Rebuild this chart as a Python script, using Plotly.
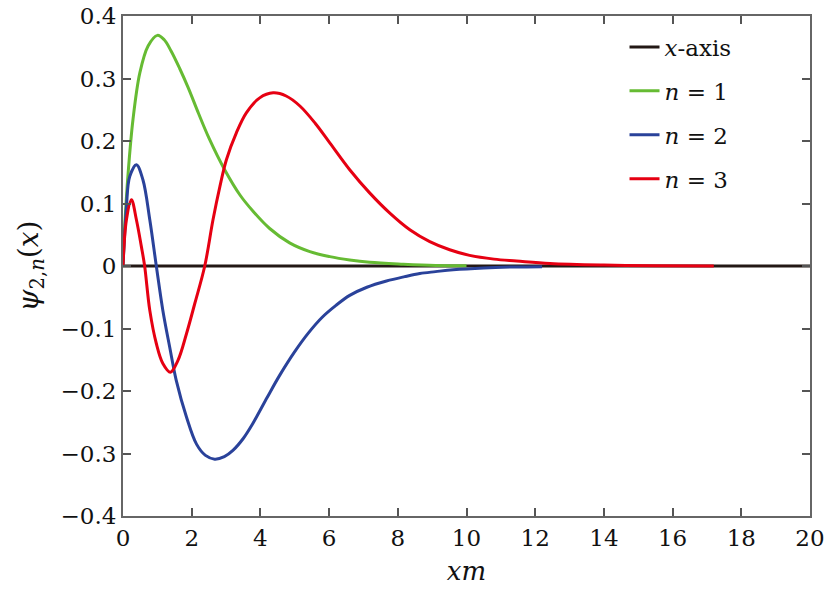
import plotly.graph_objects as go

# ---- data ----
x_axis_x = [0, 20]
x_axis_y = [0, 0]

x_n1 = [0, 0.05, 0.15, 0.29, 0.49, 0.73, 1.0, 1.2, 1.4, 1.65, 1.9, 2.2, 2.5, 2.96, 3.4,
        3.78, 4.27, 4.85, 5.44, 6.02, 6.6, 7.18, 8.16, 9.1, 10.0]
y_n1 = [0, 0.063, 0.149, 0.234, 0.309, 0.352, 0.369, 0.362, 0.344, 0.316, 0.285, 0.244,
        0.205, 0.154, 0.114, 0.088, 0.06, 0.037, 0.023, 0.015, 0.0096, 0.006, 0.003,
        0.001, 0.0005]

x_n2 = [0, 0.1, 0.195, 0.39, 0.58, 0.78, 0.97, 1.16, 1.36, 1.55, 1.85, 2.14, 2.4, 2.67,
        2.95, 3.2, 3.5, 3.78, 4.2, 4.56, 5.0, 5.4, 5.8, 6.2, 6.6, 7.1, 7.67, 8.2, 8.64,
        9.1, 9.61, 10.5, 11.4, 12.2]
y_n2 = [0, 0.095, 0.143, 0.162, 0.138, 0.074, 0.0, -0.071, -0.13, -0.183, -0.242, -0.285,
        -0.303, -0.309, -0.305, -0.295, -0.276, -0.252, -0.21, -0.175, -0.137, -0.107,
        -0.082, -0.063, -0.047, -0.034, -0.024, -0.017, -0.012, -0.009, -0.006, -0.003,
        -0.0015, -0.001]

x_n3 = [0, 0.1, 0.245, 0.39, 0.535, 0.63, 0.78, 0.97, 1.16, 1.38, 1.6, 1.85, 2.09, 2.38,
        2.62, 2.82, 3.01, 3.3, 3.59, 3.98, 4.37, 4.75, 5.15, 5.6, 6.02, 6.6, 7.18, 7.76,
        8.35, 8.93, 9.51, 10.09, 10.8, 11.46, 12.43, 14.0, 15.5, 17.2]
y_n3 = [0, 0.074, 0.106, 0.074, 0.031, 0.0, -0.071, -0.124, -0.156, -0.170, -0.151, -0.108,
        -0.06, 0.0, 0.074, 0.127, 0.170, 0.213, 0.245, 0.269, 0.277, 0.272, 0.256, 0.228,
        0.197, 0.154, 0.117, 0.085, 0.058, 0.039, 0.026, 0.017, 0.011, 0.008, 0.004,
        0.0015, 0.0006, 0.0002]

x_ticks = list(range(0, 21, 2))
y_ticks = [-0.4, -0.3, -0.2, -0.1, 0, 0.1, 0.2, 0.3, 0.4]

FONT = "DejaVu Serif"
BLACK = "#231815"
GREEN = "#66bb33"
BLUE = "#2a429a"
RED = "#e60012"

fig = go.Figure()
series = [
    (x_axis_x, x_axis_y, "<i>x</i>-axis", BLACK, "linear"),
    (x_n1, y_n1, "<i>n</i> = 1", GREEN, "spline"),
    (x_n2, y_n2, "<i>n</i> = 2", BLUE, "spline"),
    (x_n3, y_n3, "<i>n</i> = 3", RED, "spline"),
]
for i, (xs, ys, name, col, shp) in enumerate(series):
    fig.add_trace(go.Scatter(
        x=xs, y=ys, mode="lines", name=name, legendgroup=f"g{i}",
        line=dict(color=col, width=3, shape=shp, smoothing=1.0),
        cliponaxis=False,
    ))

axis_common = dict(
    showline=True, linecolor="#666666", linewidth=2, mirror="ticks",
    ticks="inside", ticklen=8, tickwidth=1.5, tickcolor="#555555",
    showgrid=False, zeroline=False, automargin=False,
    tickfont=dict(family=FONT, size=23, color="#111111"),
)

fig.update_layout(
    width=831, height=593,
    margin=dict(l=123, r=21, t=16, b=77, autoexpand=False),
    paper_bgcolor="white", plot_bgcolor="white",
    font=dict(family=FONT, color="#111111"),
    showlegend=True,
    legend=dict(
        x=0.73, y=0.981, xanchor="left", yanchor="top",
        bgcolor="rgba(0,0,0,0)", borderwidth=0,
        font=dict(family=FONT, size=23, color="#111111"),
        tracegroupgap=11,
    ),
    xaxis=dict(
        range=[0, 20], tickvals=x_ticks,
        title=dict(text="<i>xm</i>", font=dict(family=FONT, size=26), standoff=12),
        **axis_common,
    ),
    yaxis=dict(
        range=[-0.4, 0.4], tickvals=y_ticks,
        title=dict(text="<i>ψ</i><sub>2,<i>n</i></sub>(<i>x</i>)",
                   font=dict(family=FONT, size=28), standoff=14),
        **axis_common,
    ),
)

fig.write_html("out.html")
